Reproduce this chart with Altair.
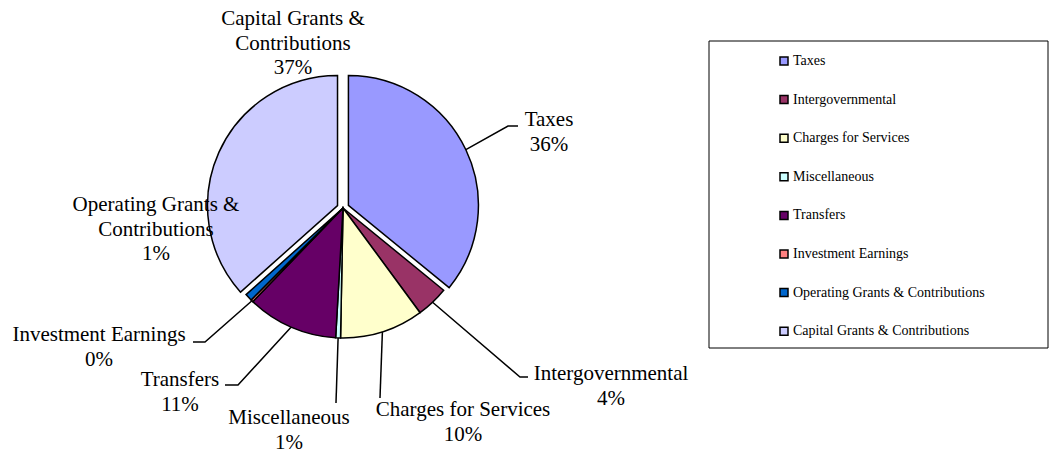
import altair as alt
import pandas as pd
import numpy as np

# ---------------- data ----------------
CATEGORIES = [
    "Taxes",
    "Intergovernmental",
    "Charges for Services",
    "Miscellaneous",
    "Transfers",
    "Investment Earnings",
    "Operating Grants & Contributions",
    "Capital Grants & Contributions",
]
VALUES = [35.9, 4.0, 10.4, 0.6, 11.3, 0.3, 0.9, 36.6]

# ---------------- style / layout ----------------
COLORS = ["#9999FF", "#993366", "#FFFFCC", "#CCFFFF", "#660066", "#FF8080", "#0066CC", "#CCCCFF"]
EXPLODED = ["Taxes", "Capital Grants & Contributions"]
CX, CY, R, EXPLODE = 343, 208, 130, 6
FONT = "Liberation Serif"

# label block: centre x, y of first line, name lines (percent line appended)
LABEL_LAYOUT = {
    "Taxes": (549, 120, ["Taxes"]),
    "Intergovernmental": (611, 374, ["Intergovernmental"]),
    "Charges for Services": (463, 410, ["Charges for Services"]),
    "Miscellaneous": (289, 418, ["Miscellaneous"]),
    "Transfers": (180, 380, ["Transfers"]),
    "Investment Earnings": (99, 335, ["Investment Earnings"]),
    "Operating Grants & Contributions": (156, 205, ["Operating Grants &", "Contributions"]),
    "Capital Grants & Contributions": (293, 19, ["Capital Grants &", "Contributions"]),
}
LINE_STEP = 24.5
# leader line points after the start point on the pie edge
LEADER_LAYOUT = {
    "Taxes": [(508, 126), (518, 126)],
    "Intergovernmental": [(520, 377), (528, 377)],
    "Charges for Services": [(380, 398)],
    "Miscellaneous": [(336, 403)],
    "Transfers": [(238, 385), (225, 385)],
    "Investment Earnings": [(205, 342), (193, 342)],
}

df = pd.DataFrame({"category": CATEGORIES, "value": VALUES, "order": range(len(CATEGORIES))})
total = float(np.sum(VALUES))
cum = np.cumsum(VALUES)

# label rows
lab_rows = []
for i, cat in enumerate(CATEGORIES):
    x, y0, lines = LABEL_LAYOUT[cat]
    pct = f"{int(VALUES[i] / total * 100 + 0.5)}%"
    for j, t in enumerate(lines + [pct]):
        lab_rows.append({"x": x, "y": y0 + j * LINE_STEP, "text": t})
labels_df = pd.DataFrame(lab_rows)

# leader rows
lead_rows = []
for i, cat in enumerate(CATEGORIES):
    if cat not in LEADER_LAYOUT:
        continue
    t0 = 2 * np.pi * (cum[i] - VALUES[i]) / total
    t1 = 2 * np.pi * cum[i] / total
    mid = (t0 + t1) / 2
    off = EXPLODE if cat in EXPLODED else 0
    sx = CX + off * np.sin(mid) + R * np.sin(mid)
    sy = CY - off * np.cos(mid) - R * np.cos(mid)
    pts = [(sx, sy)] + LEADER_LAYOUT[cat]
    for k, (px, py) in enumerate(pts):
        lead_rows.append({"category": cat, "idx": k, "x": px, "y": py})
lead_df = pd.DataFrame(lead_rows)

explode_list = "[" + ",".join("'" + c + "'" for c in EXPLODED) + "]"

pie = (
    alt.Chart(df)
    .transform_window(cum="sum(value)", sort=[alt.SortField("order")], frame=[None, 0])
    .transform_joinaggregate(total="sum(value)")
    .transform_calculate(
        t0="2*PI*(datum.cum - datum.value)/datum.total",
        t1="2*PI*datum.cum/datum.total",
    )
    .transform_calculate(mid="(datum.t0 + datum.t1)/2")
    .transform_calculate(off=f"indexof({explode_list}, datum.category) >= 0 ? {EXPLODE} : 0")
    .transform_calculate(
        cx=f"{CX} + datum.off*sin(datum.mid)",
        cy=f"{CY} - datum.off*cos(datum.mid)",
    )
    .mark_arc(stroke="black", strokeWidth=1.5, radius=R)
    .encode(
        theta=alt.Theta("t0:Q", scale=None),
        theta2="t1:Q",
        x=alt.X("cx:Q", scale=None, axis=None),
        y=alt.Y("cy:Q", scale=None, axis=None),
        color=alt.Color(
            "category:N",
            scale=alt.Scale(domain=CATEGORIES, range=COLORS),
            sort=CATEGORIES,
            legend=alt.Legend(
                title=None,
                orient="none",
                legendX=777,
                legendY=54,
                padding=0,
                symbolType="square",
                symbolSize=64,
                symbolStrokeColor="black",
                symbolStrokeWidth=1.5,
                labelFont=FONT,
                labelFontSize=14,
                labelColor="black",
                labelOffset=2,
                rowPadding=24.6,
                labelLimit=400,
            ),
        ),
    )
)

leaders = (
    alt.Chart(lead_df)
    .mark_line(color="black", strokeWidth=1.5)
    .encode(
        x=alt.X("x:Q", scale=None, axis=None),
        y=alt.Y("y:Q", scale=None, axis=None),
        detail="category:N",
        order="idx:Q",
    )
)

labels = (
    alt.Chart(labels_df)
    .mark_text(font=FONT, fontSize=21, color="black", align="center", baseline="middle")
    .encode(
        x=alt.X("x:Q", scale=None, axis=None),
        y=alt.Y("y:Q", scale=None, axis=None),
        text="text:N",
    )
)

legend_box = (
    alt.Chart(pd.DataFrame({"a": [0]}))
    .mark_rect(fill="white", stroke="black", strokeWidth=1)
    .encode(x=alt.value(709), x2=alt.value(1048), y=alt.value(41), y2=alt.value(348))
)

chart = (
    alt.layer(legend_box, pie, leaders, labels)
    .properties(width=1050, height=452, autosize="none", padding=0, background="white")
    .configure_view(stroke=None)
)

chart.save("out.html", embed_options={"renderer": "svg", "actions": False})
